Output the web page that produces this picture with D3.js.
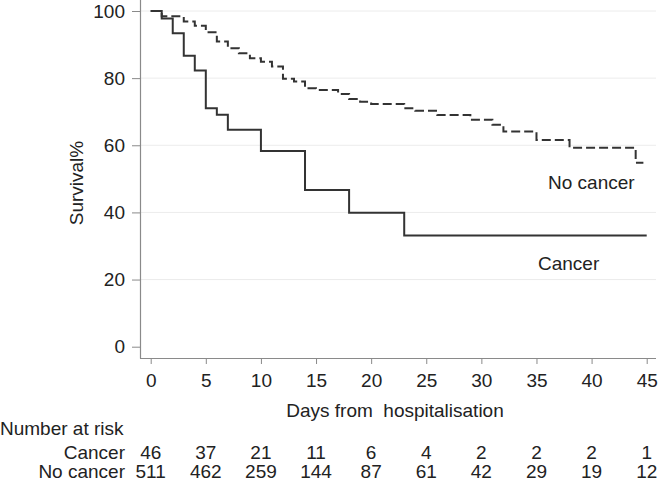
<!DOCTYPE html>
<html>
<head>
<meta charset="utf-8">
<script src="https://cdn.jsdelivr.net/npm/d3@7"></script>
<style>
  html, body { margin: 0; padding: 0; background: #fff; }
  svg { display: block; font-family: "Liberation Sans", Arial, Helvetica, sans-serif; }
</style>
</head>
<body>
<svg id="chart" width="658" height="482"></svg>
<script>
// ---- data ----
const cancerTimes = [0, 1, 2, 3, 4, 5, 6, 7, 10, 14, 18, 23, 45];
const cancerSurv  = [100, 97.8, 93.4, 86.7, 82.3, 71.0, 69.1, 64.6, 58.3, 46.7, 39.9, 33.1, 33.1];

const noCancerTimes = [0, 1, 3, 4, 5, 6, 7, 8, 9, 10, 11, 12, 13, 14, 15, 17, 18, 19, 20, 23, 24, 26, 29, 31, 32, 35, 38, 44, 44.7];
const noCancerSurv  = [100, 98.4, 96.9, 95.6, 93.7, 90.9, 88.9, 87.4, 85.9, 84.9, 83.5, 79.8, 79.0, 77.0, 76.5, 75.3, 73.8, 73.0, 72.3, 71.0, 70.3, 69.0, 67.6, 66.1, 64.1, 61.6, 59.3, 54.8, 54.8];

const xTicks = [0, 5, 10, 15, 20, 25, 30, 35, 40, 45];
const yTicks = [0, 20, 40, 60, 80, 100];
const gridValues = [20, 40, 60, 80, 100];

const riskLabels = ["Cancer", "No cancer"];
const riskCancer   = [46, 37, 21, 11, 6, 4, 2, 2, 2, 1];
const riskNoCancer = [511, 462, 259, 144, 87, 61, 42, 29, 19, 12];

// ---- drawing ----
const svg = d3.select("#chart");
const textColor = "#222";
const axisColor = "#8a8a8a";
const fontSize = 19;

const x = d3.scaleLinear().domain([0, 45]).range([150.7, 646.7]);
const y = d3.scaleLinear().domain([0, 100]).range([346.7, 11]);

// gridlines
svg.append("g").selectAll("line").data(gridValues).join("line")
  .attr("x1", 140).attr("x2", 656)
  .attr("y1", d => y(d)).attr("y2", d => y(d))
  .attr("stroke", "#ececec").attr("stroke-width", 1);

// y axis
const yAx = svg.append("g").attr("transform", "translate(140,0)")
  .call(d3.axisLeft(y).tickValues(yTicks).tickSize(8).tickPadding(7));
yAx.select(".domain").remove();
yAx.selectAll(".tick line").attr("stroke", axisColor);
yAx.selectAll(".tick text").attr("fill", textColor).attr("font-size", fontSize)
  .attr("font-family", "Liberation Sans, Arial, sans-serif");
svg.append("line").attr("x1", 140.5).attr("x2", 140.5).attr("y1", 0).attr("y2", 358.5)
  .attr("stroke", axisColor).attr("stroke-width", 1.2);

// x axis
const xAx = svg.append("g").attr("transform", "translate(0,358)")
  .call(d3.axisBottom(x).tickValues(xTicks).tickSize(6).tickPadding(10));
xAx.select(".domain").remove();
xAx.selectAll(".tick line").attr("stroke", axisColor);
xAx.selectAll(".tick text").attr("fill", textColor).attr("font-size", fontSize)
  .attr("font-family", "Liberation Sans, Arial, sans-serif");
svg.append("line").attr("x1", 140).attr("x2", 656).attr("y1", 358.5).attr("y2", 358.5)
  .attr("stroke", axisColor).attr("stroke-width", 1.2);

// curves
const line = d3.line().x(d => x(d[0])).y(d => y(d[1])).curve(d3.curveStepAfter);
const cancerData = cancerTimes.map((t, i) => [t, cancerSurv[i]]);
const noCancerData = noCancerTimes.map((t, i) => [t, noCancerSurv[i]]);

svg.append("path").datum(noCancerData).attr("d", line)
  .attr("fill", "none").attr("stroke", "#333").attr("stroke-width", 2)
  .attr("stroke-dasharray", "9,4");
svg.append("path").datum(cancerData).attr("d", line)
  .attr("fill", "none").attr("stroke", "#333").attr("stroke-width", 2);

// curve labels
svg.append("text").attr("x", 548).attr("y", 188.5).attr("fill", textColor)
  .attr("font-size", fontSize).text("No cancer");
svg.append("text").attr("x", 538).attr("y", 269.5).attr("fill", textColor)
  .attr("font-size", fontSize).text("Cancer");

// axis titles
svg.append("text").attr("x", 395).attr("y", 416.5).attr("text-anchor", "middle")
  .attr("fill", textColor).attr("font-size", fontSize)
  .style("white-space", "pre").text("Days from  hospitalisation");
svg.append("text").attr("transform", "translate(83,183) rotate(-90)")
  .attr("text-anchor", "middle").attr("fill", textColor).attr("font-size", fontSize)
  .text("Survival%");

// number at risk
svg.append("text").attr("x", 0).attr("y", 435).attr("fill", textColor)
  .attr("font-size", fontSize).text("Number at risk");
const rows = [riskCancer, riskNoCancer];
const rowY = [458.5, 477.5];
rows.forEach((vals, r) => {
  svg.append("text").attr("x", 125).attr("y", rowY[r]).attr("text-anchor", "end")
    .attr("fill", textColor).attr("font-size", fontSize).text(riskLabels[r]);
  svg.append("g").selectAll("text").data(vals).join("text")
    .attr("x", (d, i) => x(xTicks[i])).attr("y", rowY[r])
    .attr("text-anchor", "middle").attr("fill", textColor).attr("font-size", fontSize)
    .text(d => d);
});
</script>
</body>
</html>
